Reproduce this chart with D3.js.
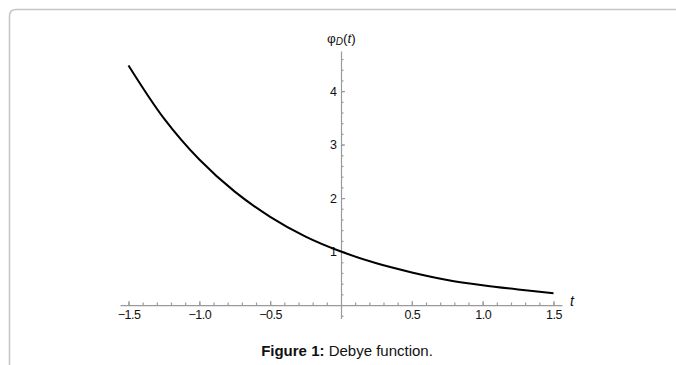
<!DOCTYPE html>
<html>
<head>
<meta charset="utf-8">
<script src="https://cdn.jsdelivr.net/npm/d3@7"></script>
<style>
  html, body { margin: 0; padding: 0; background: #fff; }
  svg { display: block; font-family: "Liberation Sans", Arial, sans-serif; }
  .lbl text { font-size: 12.5px; font-family: "Liberation Sans", Arial, sans-serif; fill: #111; }
</style>
</head>
<body>
<div id="chart"></div>
<script>
// values (phi_D at each t)
const tValues = [-1.5, -1.25, -1.0, -0.75, -0.5, -0.25, 0, 0.25, 0.5, 0.75, 1.0, 1.25, 1.5];
const phiValues = [4.48, 3.49, 2.72, 2.12, 1.65, 1.28, 1.0, 0.78, 0.61, 0.47, 0.37, 0.29, 0.22];

const xMajor = [-1.5, -1.0, -0.5, 0.5, 1.0, 1.5];
const xLabels = ['\u22121.5', '\u22121.0', '\u22120.5', '0.5', '1.0', '1.5'];
const yMajor = [1, 2, 3, 4];
const yLabels = ['1', '2', '3', '4'];

const W = 676, H = 365;

const svg = d3.select('#chart')
  .append('svg')
  .attr('width', W)
  .attr('height', H);

// card frame: rounded top-left corner, open on right and bottom
svg.append('path')
  .attr('d', 'M9.5,' + H + ' L9.5,16 Q9.5,9.5 16,9.5 L' + W + ',9.5')
  .attr('fill', 'none')
  .attr('stroke', '#c4c4c4')
  .attr('stroke-width', 1.5);

const x = d3.scaleLinear().domain([-1.56, 1.56]).range([120, 562]);
const y = d3.scaleLinear().domain([-0.25, 4.75]).range([318.4, 51]);

const axisColor = '#9a9a9a';

// x axis: minor ticks
const xMinor = d3.range(-15, 16).map(d => d / 10).filter(d => Math.abs(d) > 1e-9);
svg.append('g')
  .attr('transform', 'translate(0,' + y(0) + ')')
  .call(d3.axisBottom(x).tickValues(xMinor).tickFormat('').tickSizeInner(-2.5).tickSizeOuter(0))
  .call(g => g.select('.domain').attr('stroke', axisColor).attr('stroke-width', 1.2));

// x axis: major ticks with labels
svg.append('g')
  .attr('class', 'lbl')
  .attr('transform', 'translate(0,' + y(0) + ')')
  .call(d3.axisBottom(x).tickValues(xMajor)
    .tickFormat((d, i) => xLabels[i]).tickSizeInner(-4).tickSizeOuter(0).tickPadding(5))
  .call(g => g.select('.domain').remove())
  .call(g => g.selectAll('.tick text').attr('letter-spacing', '-0.5px'));

// y axis: minor ticks
const yMinor = d3.range(-1, 24).map(d => d / 5).filter(d => Math.abs(d) > 1e-9);
svg.append('g')
  .attr('transform', 'translate(' + x(0) + ',0)')
  .call(d3.axisLeft(y).tickValues(yMinor).tickFormat('').tickSizeInner(-2.5).tickSizeOuter(0))
  .call(g => g.select('.domain').attr('stroke', axisColor).attr('stroke-width', 1.2));

// y axis: major ticks with labels
svg.append('g')
  .attr('class', 'lbl')
  .attr('transform', 'translate(' + x(0) + ',0)')
  .call(d3.axisLeft(y).tickValues(yMajor)
    .tickFormat((d, i) => yLabels[i]).tickSizeInner(-4).tickSizeOuter(0).tickPadding(4))
  .call(g => g.select('.domain').remove());

svg.selectAll('.tick line').attr('stroke', axisColor).attr('stroke-width', 1.2);

// curve
const pts = tValues.map((t, i) => [t, phiValues[i]]);
svg.append('path')
  .datum(pts)
  .attr('fill', 'none')
  .attr('stroke', '#000')
  .attr('stroke-width', 2)
  .attr('d', d3.line().x(d => x(d[0])).y(d => y(d[1])).curve(d3.curveCatmullRom.alpha(0.5)));

// axis labels
const yl = svg.append('text')
  .attr('x', x(0) - 14)
  .attr('y', 43)
  .attr('font-size', 13.5)
  .attr('fill', '#111');
yl.append('tspan').text('\u03c6');
yl.append('tspan').attr('font-style', 'italic').attr('font-size', 10).attr('dy', 2).text('D');
yl.append('tspan').attr('dy', -2).text('(');
yl.append('tspan').attr('font-style', 'italic').text('t');
yl.append('tspan').text(')');

svg.append('text')
  .attr('x', 570)
  .attr('y', 306)
  .attr('font-size', 14)
  .attr('font-style', 'italic')
  .attr('fill', '#111')
  .text('t');

// caption
const cap = svg.append('text')
  .attr('x', 347)
  .attr('y', 356)
  .attr('text-anchor', 'middle')
  .attr('font-size', 15)
  .attr('fill', '#111');
cap.append('tspan').attr('font-weight', 'bold').text('Figure 1:');
cap.append('tspan').text(' Debye function.');
</script>
</body>
</html>
